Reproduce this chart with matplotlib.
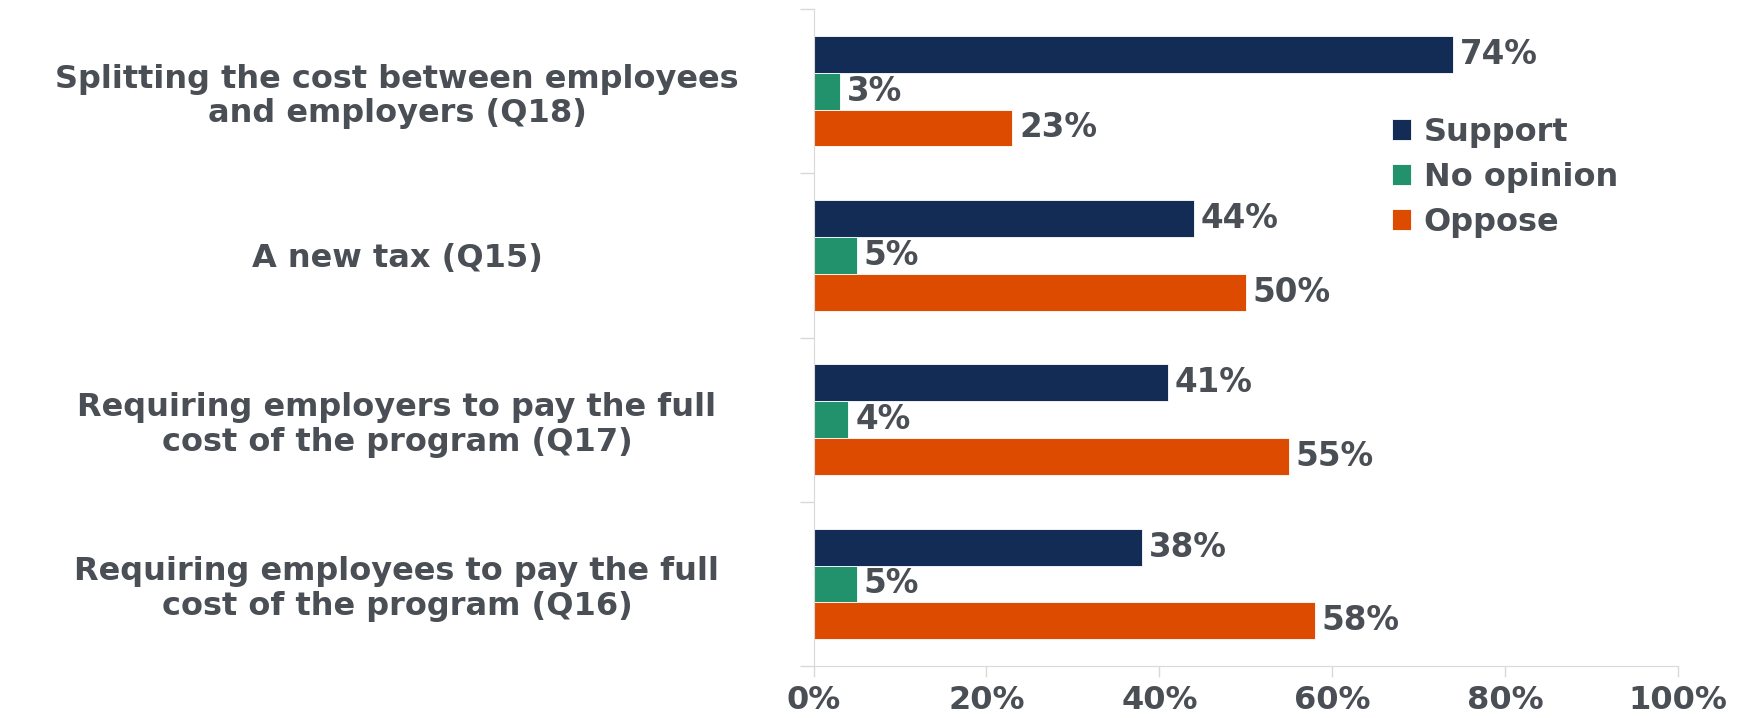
import numpy as np
import matplotlib.pyplot as plt

# Data
categories = ["Splitting the cost between employees\nand employers (Q18)",
              "A new tax (Q15)",
              "Requiring employers to pay the full\ncost of the program (Q17)",
              "Requiring employees to pay the full\ncost of the program (Q16)"]
series = ["Support", "No opinion", "Oppose"]
support = [74, 44, 41, 38]
no_opinion = [3, 5, 4, 5]
oppose = [23, 50, 55, 58]
x_ticks = [0, 20, 40, 60, 80, 100]

colors = ["#132c55", "#21926b", "#dc4b00"]
text_color = "#4a4e55"
grid_color = "#d9d9d9"

plt.rcParams['font.family'] = ['DejaVu Sans']

fig = plt.figure(figsize=(17.46, 7.18), dpi=100)
ax = fig.add_axes([0.466, 0.0724, 0.495, 0.915])

y = np.arange(len(categories))
h = 0.224
for i, (vals, name) in enumerate(zip([support, no_opinion, oppose], series)):
    pos = y + (i - 1) * h
    ax.barh(pos, vals, height=h, color=colors[i], label=name, edgecolor='white', linewidth=0.6)
    for p, v in zip(pos, vals):
        ax.annotate(f"{v}%", (v, p), xytext=(5, 0), textcoords='offset points',
                    va='center', ha='left', fontsize=23.5, fontweight='bold', color=text_color)

ax.set_xlim(0, 100)
ax.set_ylim(len(categories) - 0.5, -0.5)

# x axis
ax.set_xticks(x_ticks)
ax.set_xticklabels([f"{t}%" for t in x_ticks])
ax.tick_params(axis='x', length=8, width=1, color=grid_color, pad=6,
               labelsize=23, labelcolor=text_color)
for lbl in ax.get_xticklabels():
    lbl.set_fontweight('bold')

# y axis: ticks at group boundaries, labels at centers
ax.set_yticks(np.arange(len(categories) + 1) - 0.5)
ax.set_yticklabels([])
ax.tick_params(axis='y', which='major', length=10, width=1, color=grid_color)
ax.set_yticks(y, minor=True)
ax.set_yticklabels(categories, minor=True, fontsize=23, fontweight='bold',
                   color=text_color, ha='center', linespacing=1.15)
ax.tick_params(axis='y', which='minor', length=0, pad=300)

for s in ['top', 'right']:
    ax.spines[s].set_visible(False)
for s in ['left', 'bottom']:
    ax.spines[s].set_color(grid_color)

leg = ax.legend(loc='upper left', bbox_to_anchor=(0.669, 0.836), frameon=False,
                prop={'size': 23, 'weight': 'bold'}, handlelength=0.6, handleheight=0.6,
                handletextpad=0.4, labelspacing=0.44, borderpad=0, borderaxespad=0)
for t in leg.get_texts():
    t.set_color(text_color)

fig.savefig("out.png", dpi=100)
